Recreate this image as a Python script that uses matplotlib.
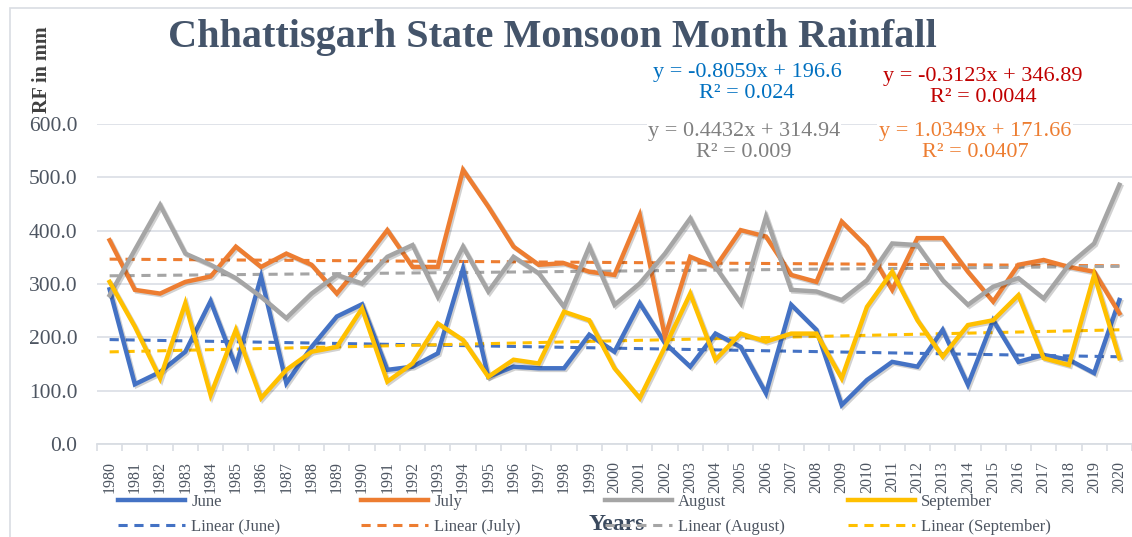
import matplotlib

matplotlib.use("Agg")
import matplotlib.pyplot as plt
import matplotlib.patheffects as pe
from matplotlib.patches import Rectangle
import numpy as np

# --------------------------------------------------------------------------- #
# Data (mm)
# --------------------------------------------------------------------------- #
years = list(range(1980, 2021))

june = [290, 112, 135, 173, 268, 145, 314, 114, 182, 239, 262, 139, 145, 170,
        329, 126, 145, 142, 142, 205, 173, 264, 189, 145, 207, 182, 95, 261,
        214, 73, 120, 154, 145, 214, 111, 232, 154, 167, 158, 133, 270]
july = [382, 289, 282, 304, 314, 370, 332, 357, 336, 282, 339, 401, 332, 332,
        514, 445, 370, 336, 339, 323, 317, 429, 201, 351, 332, 401, 389, 317,
        304, 417, 370, 289, 386, 386, 323, 267, 336, 345, 332, 323, 245]
august = [279, 364, 448, 357, 336, 311, 276, 236, 282, 317, 301, 351, 373, 276,
          370, 286, 351, 320, 257, 370, 261, 301, 357, 423, 332, 264, 426, 289,
          286, 270, 307, 376, 373, 307, 261, 295, 311, 273, 336, 376, 486]
september = [304, 220, 123, 264, 92, 214, 86, 139, 173, 182, 254, 117, 151, 226,
             195, 126, 158, 151, 248, 232, 142, 86, 182, 282, 158, 207, 192, 207,
             207, 123, 257, 323, 232, 164, 223, 232, 279, 161, 148, 317, 161]

series_names = ["June", "July", "August", "September"]
series_values = [june, july, august, september]
series_colors = ["#4472C4", "#ED7D31", "#A5A5A5", "#FFC000"]

# Excel linear trendlines (x = 1..41) as printed on the chart
trend_slopes = [-0.8059, -0.3123, 0.4432, 1.0349]
trend_intercepts = [196.6, 346.89, 314.94, 171.66]

eq_texts = ["y = -0.8059x + 196.6\nR² = 0.024",
            "y = -0.3123x + 346.89\nR² = 0.0044",
            "y = 0.4432x + 314.94\nR² = 0.009",
            "y = 1.0349x + 171.66\nR² = 0.0407"]
eq_colors = ["#0070C0", "#C00000", "#7F7F7F", "#ED7D31"]
eq_pos = [(747, 83), (983, 87), (744, 142), (975, 142)]   # pixel centres

W, H = 1132, 537
SERIF = "Liberation Serif"
TICK_COLOR = "#4D5561"

fig = plt.figure(figsize=(W / 100, H / 100), dpi=100)
fig.patch.set_facecolor("white")
fig.add_artist(Rectangle((10 / W, -0.05), 1.2, 1 - 8 / H + 0.05,
                         transform=fig.transFigure, fill=False,
                         edgecolor="#D9DDE3", linewidth=1.2))

ax = fig.add_axes([97 / W, 1 - 444 / H, (W - 97) / W, 320 / H])
x = np.arange(len(years))

shadow = [pe.SimpleLineShadow(offset=(1.2, -1.2), shadow_color="#000000", alpha=0.18),
          pe.Normal()]

handles_main = []
handles_lin = []
for name, vals, col, m, b in zip(series_names, series_values, series_colors,
                                 trend_slopes, trend_intercepts):
    ln, = ax.plot(x, vals, color=col, linewidth=3.2, solid_joinstyle="miter",
                  path_effects=shadow, zorder=3)
    handles_main.append(ln)
    trend = m * (x + 1) + b
    tl, = ax.plot(x, trend, color=col, linewidth=2.2, linestyle=(0, (3, 2.2)),
                  zorder=2)
    handles_lin.append(tl)

ax.set_xlim(-0.5, 40.5)
ax.set_ylim(0, 600)
ax.set_yticks(np.arange(0, 601, 100))
ax.set_yticklabels([f"{v:.1f}" for v in range(0, 601, 100)],
                   fontfamily=SERIF, fontsize=15.5, color=TICK_COLOR)
ax.yaxis.grid(True, color="#DDE1E7", linewidth=1.3)
ax.set_axisbelow(True)
ax.tick_params(axis="y", length=0, pad=14)

ax.set_xticks(x)
ax.set_xticklabels([str(y) for y in years], rotation=90, fontfamily=SERIF,
                   fontsize=11.5, color=TICK_COLOR)
ax.set_xticks(np.arange(-0.5, 41, 1), minor=True)
ax.tick_params(axis="x", which="major", length=0, pad=12)
ax.tick_params(axis="x", which="minor", length=5, color="#D9DDE3", width=1.2)

for s in ["top", "right", "left"]:
    ax.spines[s].set_visible(False)
ax.spines["bottom"].set_color("#D9DDE3")
ax.spines["bottom"].set_linewidth(1.3)

# Title and axis labels
fig.text(552 / W, 1 - 37 / H, "Chhattisgarh State Monsoon Month Rainfall",
         ha="center", va="center", fontfamily=SERIF, fontweight="bold",
         fontsize=29, color="#44546A")
fig.text(42 / W, 1 - 70 / H, "RF in mm", rotation=90, ha="center", va="center",
         fontfamily=SERIF, fontweight="bold", fontsize=14.5, color="#404040")
fig.text(617 / W, 1 - 525 / H, "Years", ha="center", va="center",
         fontfamily=SERIF, fontweight="bold", fontsize=17, color="#3B4A5E")

# Trendline equations
for txt, col, (px, py) in zip(eq_texts, eq_colors, eq_pos):
    fig.text(px / W, 1 - py / H, txt, ha="center", va="center",
             fontfamily=SERIF, fontsize=16, color=col, linespacing=1.1,
             bbox=dict(facecolor="white", edgecolor="none", pad=1))

# Legend: four equally spaced columns
col_left = [118, 361, 605, 848]
for i in range(4):
    lg = fig.legend([handles_main[i], handles_lin[i]],
                    [series_names[i], f"Linear ({series_names[i]})"],
                    loc="upper left", bbox_to_anchor=(col_left[i] / W, 1 - 494 / H),
                    frameon=False, borderpad=0, borderaxespad=0, handlelength=4.0,
                    handletextpad=0.4, labelspacing=0.55,
                    prop=dict(family=SERIF, size=12))
    for t in lg.get_texts():
        t.set_color(TICK_COLOR)
    for lh in lg.legend_handles:
        lh.set_path_effects([])

fig.savefig("out.png", dpi=100)
